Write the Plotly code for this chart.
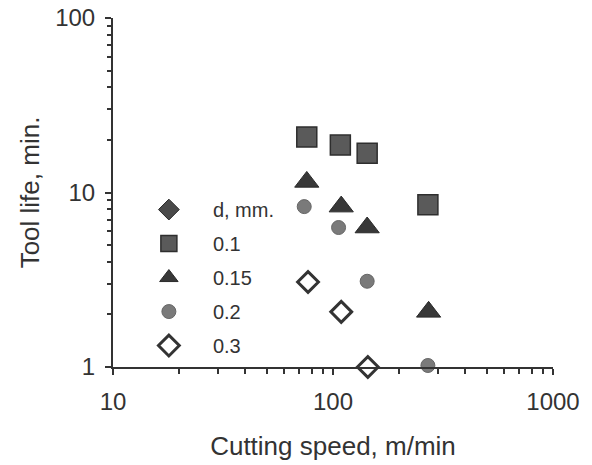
import plotly.graph_objects as go

# Data
speed_01 = [76, 108, 143, 270]
life_01 = [20.8, 18.7, 16.8, 8.5]
speed_015 = [76, 109, 143, 272]
life_015 = [11.5, 8.3, 6.3, 2.07]
speed_02 = [74, 106, 143, 270]
life_02 = [8.3, 6.3, 3.1, 1.02]
speed_03 = [77, 109, 144]
life_03 = [3.07, 2.07, 1.0]
legend_title = "d, mm."
labels = ["0.1", "0.15", "0.2", "0.3"]

txt = "#333333"
fig = go.Figure()
fig.add_trace(go.Scatter(x=[None], y=[None], mode="markers", name=legend_title, legendgroup="g0",
                         marker=dict(symbol="diamond", size=16, color="#4a4a4a",
                                     line=dict(color="#2a2a2a", width=1))))
fig.add_trace(go.Scatter(x=speed_01, y=life_01, mode="markers", name=labels[0], legendgroup="g1",
                         marker=dict(symbol="square", size=20, color="#5a5a5a",
                                     line=dict(color="#2e2e2e", width=1.5))))
fig.add_trace(go.Scatter(x=speed_015, y=life_015, mode="markers", name=labels[1], legendgroup="g2",
                         marker=dict(symbol="triangle-up", size=21, color="#383838",
                                     line=dict(color="#2a2a2a", width=1))))
fig.add_trace(go.Scatter(x=speed_02, y=life_02, mode="markers", name=labels[2], legendgroup="g3",
                         marker=dict(symbol="circle", size=14, color="#7a7a7a",
                                     line=dict(color="#666666", width=1))))
fig.add_trace(go.Scatter(x=speed_03, y=life_03, mode="markers", name=labels[3], legendgroup="g4",
                         marker=dict(symbol="diamond-open", size=16, color="#333333",
                                     line=dict(color="#333333", width=3))))
for t in fig.data:
    t.cliponaxis = False

fig.update_layout(
    width=592, height=465,
    margin=dict(l=113, r=39, t=18, b=98, autoexpand=False),
    paper_bgcolor="white", plot_bgcolor="white",
    font=dict(family="Liberation Sans, Arial, sans-serif", size=24, color=txt),
    showlegend=True,
    legend=dict(x=0.027, y=0.507, xanchor="left", yanchor="top",
                bgcolor="rgba(0,0,0,0)", font=dict(size=20, color=txt),
                tracegroupgap=5, itemwidth=78),
    xaxis=dict(type="log", range=[1, 3], dtick=1, showgrid=False, zeroline=False,
               showline=True, linecolor="#333", linewidth=2, automargin=False,
               ticks="outside", ticklen=6, tickwidth=1.5, tickcolor="#333",
               minor=dict(ticks="outside", ticklen=5, tickcolor="#333", dtick="D1", showgrid=False),
               ticklabelstandoff=6,
               title=dict(text="Cutting speed, m/min", standoff=23, font=dict(size=26)),
               tickfont=dict(size=24)),
    yaxis=dict(type="log", range=[0, 2], dtick=1, showgrid=False, zeroline=False,
               showline=True, linecolor="#333", linewidth=2, automargin=False,
               ticks="outside", ticklen=6, tickwidth=1.5, tickcolor="#333",
               minor=dict(ticks="outside", ticklen=4, tickcolor="#333", dtick="D1", showgrid=False),
               ticklabelstandoff=5,
               title=dict(text="Tool life, min.", standoff=8, font=dict(size=26)),
               tickfont=dict(size=24)),
)
fig.write_html("out.html")
